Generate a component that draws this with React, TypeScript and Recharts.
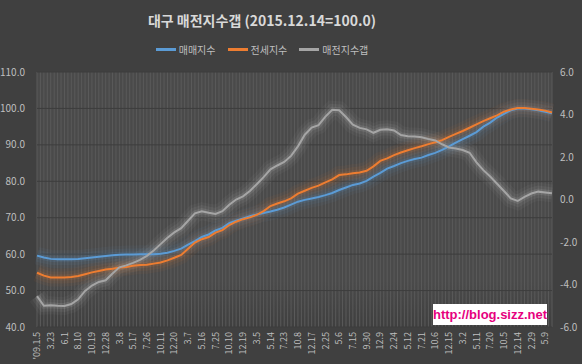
import React from "react";
import { LineChart, Line, XAxis, YAxis, CartesianGrid, Legend } from "recharts";

const tickLabels = ["'09.1.5","3.23","6.1","8.10","10.19","12.28","3.8","5.17","7.26","10.11","12.20","3.7","5.16","7.25","10.10","12.19","3.5","5.14","7.23","10.8","12.17","2.25","5.6","7.15","9.30","12.9","2.24","5.12","7.21","10.6","12.15","3.2","5.11","7.20","10.5","12.14","2.29","5.9"];

const saleIndex = [59.6,59.1,58.7,58.6,58.6,58.6,58.7,58.9,59.1,59.3,
59.5,59.7,59.8,59.9,59.9,60.0,60.0,60.0,60.1,60.4,
60.9,61.5,62.6,63.6,64.7,65.4,66.5,67.2,68.5,69.2,
69.8,70.4,70.9,71.3,71.7,72.2,72.8,73.6,74.4,74.9,
75.3,75.7,76.2,76.8,77.6,78.3,79.0,79.4,80.1,81.3,
82.3,83.5,84.2,85.0,85.6,86.1,86.5,87.2,87.8,88.6,
89.6,90.6,91.6,92.5,93.5,95.0,96.1,97.5,98.5,99.5,
100.0,100.0,99.8,99.5,99.1,98.7];

const jeonseIndex = [54.9,54.1,53.6,53.6,53.6,53.7,54.0,54.5,55.0,55.4,
55.8,56.0,56.3,56.5,56.8,57.0,57.1,57.4,57.7,58.3,
59.0,59.8,61.5,63.2,64.1,64.7,65.9,66.6,68.0,68.9,
69.6,70.1,70.8,71.8,73.2,73.9,74.5,75.3,76.6,77.4,
78.2,78.8,79.7,80.5,81.7,81.9,82.2,82.4,82.9,84.1,
85.6,86.3,87.2,87.9,88.5,89.1,89.6,90.2,90.7,91.3,
92.2,93.0,93.8,94.7,95.6,96.5,97.3,98.1,99.1,99.7,
100.1,100.1,99.9,99.7,99.4,98.9];

const gapIndex = [-4.55,-5.0,-4.98,-5.0,-5.01,-4.92,-4.7,-4.3,-4.05,-3.88,
-3.8,-3.48,-3.19,-3.1,-2.98,-2.84,-2.65,-2.4,-2.1,-1.8,
-1.55,-1.35,-1.0,-0.65,-0.55,-0.62,-0.68,-0.55,-0.25,0.0,
0.15,0.4,0.72,1.05,1.42,1.6,1.77,2.05,2.5,3.05,
3.38,3.5,3.9,4.22,4.2,3.88,3.52,3.37,3.3,3.14,
3.28,3.3,3.25,3.03,2.98,2.97,2.93,2.85,2.78,2.6,
2.45,2.4,2.33,2.2,1.75,1.38,1.08,0.74,0.4,0.05,
-0.07,0.12,0.28,0.37,0.33,0.29];

const leftTicks = [40, 50, 60, 70, 80, 90, 100, 110];
const rightTicks = [-6, -4, -2, 0, 2, 4, 6];

const seriesNames = ["매매지수", "전세지수", "매전지수갭"];
const seriesColors = ["#5b9bd5", "#ed7d31", "#a5a5a5"];

const data = saleIndex.map((v, i) => ({
  label: i % 2 === 0 && tickLabels[i / 2] !== undefined ? tickLabels[i / 2] : "",
  sale: v,
  jeonse: jeonseIndex[i],
  gap: gapIndex[i],
}));

const FONT = "'Noto Sans CJK KR', 'Noto Sans', sans-serif";
const TICK_COLOR = "#bfbfbf";

const XTick = (props: any) => {
  const { x, y, payload } = props;
  if (!payload || !payload.value) return null;
  return (
    <g transform={`translate(${x},${y})`}>
      <text
        transform="rotate(-90)"
        x={-5}
        y={0}
        dy="0.35em"
        textAnchor="end"
        fill={TICK_COLOR}
        fontSize={9}
        fontFamily={FONT}
      >
        {payload.value}
      </text>
    </g>
  );
};

const gridVerticals = ({ offset }: any) => {
  const out: number[] = [];
  const n = 150;
  for (let k = 0; k <= n; k++) out.push(offset.left + (offset.width * k) / n);
  return out;
};

const LegendContent = () => (
  <div style={{ display: "flex", justifyContent: "center", alignItems: "center", height: 20 }}>
    {seriesNames.map((name, i) => (
      <div key={name} style={{ display: "flex", alignItems: "center", marginRight: i < seriesNames.length - 1 ? 12 : 0 }}>
        <div style={{ width: 20, height: 3, background: seriesColors[i], marginRight: 3 }} />
        <span style={{ color: TICK_COLOR, fontSize: 10, fontFamily: FONT }}>{name}</span>
      </div>
    ))}
  </div>
);

const glowCommon = { dot: false, activeDot: false, isAnimationActive: false, legendType: "none" as const };

export default function App() {
  return (
    <div style={{ position: "absolute", left: 0, top: 0, width: 582, height: 364, background: "#404040", fontFamily: FONT }}>
      <svg width={0} height={0} style={{ position: "absolute" }}>
        <defs>
          <linearGradient id="plotBg" x1="0" y1="0" x2="0" y2="1">
            <stop offset="0%" stopColor="#4a4a4a" />
            <stop offset="82%" stopColor="#4a4a4a" />
            <stop offset="100%" stopColor="#3f3f3f" />
          </linearGradient>
        </defs>
      </svg>
      <div
        style={{
          position: "absolute",
          top: 10,
          left: 0,
          width: 524,
          textAlign: "center",
          color: "#d9d9d9",
          fontSize: 14,
          fontWeight: "bold",
          fontFamily: FONT,
        }}
      >
        대구 매전지수갭 (2015.12.14=100.0)
      </div>
      <LineChart
        width={582}
        height={364}
        data={data}
        margin={{ top: 52, right: 0, bottom: 0, left: 0 }}
      >
        <CartesianGrid
          yAxisId="left"
          horizontal={false}
          vertical={true}
          fill="url(#plotBg)"
          fillOpacity={1}
          stroke="#5a5a5a"
          strokeWidth={1}
          verticalCoordinatesGenerator={gridVerticals}
        />
        <CartesianGrid
          yAxisId="left"
          horizontal={true}
          vertical={false}
          stroke="#3d3d3d"
          strokeWidth={1}
        />
        <XAxis
          dataKey="label"
          interval={0}
          tick={<XTick />}
          tickLine={false}
          axisLine={false}
          tickSize={0}
          tickMargin={0}
          height={37}
        />
        <YAxis
          yAxisId="left"
          orientation="left"
          domain={[40, 110]}
          ticks={leftTicks}
          tickFormatter={(v: number) => v.toFixed(1)}
          tick={{ fill: TICK_COLOR, fontSize: 10, fontFamily: FONT }}
          tickLine={false}
          axisLine={false}
          tickSize={0}
          tickMargin={12}
          width={37}
          allowDataOverflow
        />
        <YAxis
          yAxisId="right"
          orientation="right"
          domain={[-6, 6]}
          ticks={rightTicks}
          tickFormatter={(v: number) => v.toFixed(1)}
          tick={{ fill: TICK_COLOR, fontSize: 10, fontFamily: FONT }}
          tickLine={false}
          axisLine={false}
          tickSize={0}
          tickMargin={8}
          width={30}
          allowDataOverflow
        />
        <Legend
          verticalAlign="top"
          height={20}
          wrapperStyle={{ top: 39, left: 0, width: 524 }}
          content={<LegendContent />}
        />
        <Line yAxisId="right" dataKey="gap" stroke="#e8e8e8" strokeWidth={18} strokeOpacity={0.04} {...glowCommon} />
        <Line yAxisId="right" dataKey="gap" stroke="#e8e8e8" strokeWidth={12} strokeOpacity={0.06} {...glowCommon} />
        <Line yAxisId="right" dataKey="gap" stroke="#e8e8e8" strokeWidth={6} strokeOpacity={0.1} {...glowCommon} />
        <Line yAxisId="left" dataKey="jeonse" stroke="#ed7d31" strokeWidth={18} strokeOpacity={0.05} {...glowCommon} />
        <Line yAxisId="left" dataKey="jeonse" stroke="#ed7d31" strokeWidth={12} strokeOpacity={0.07} {...glowCommon} />
        <Line yAxisId="left" dataKey="jeonse" stroke="#ed7d31" strokeWidth={6} strokeOpacity={0.12} {...glowCommon} />
        <Line yAxisId="left" dataKey="sale" stroke="#5b9bd5" strokeWidth={18} strokeOpacity={0.05} {...glowCommon} />
        <Line yAxisId="left" dataKey="sale" stroke="#5b9bd5" strokeWidth={12} strokeOpacity={0.07} {...glowCommon} />
        <Line yAxisId="left" dataKey="sale" stroke="#5b9bd5" strokeWidth={6} strokeOpacity={0.12} {...glowCommon} />
        <Line yAxisId="left" name="매매지수" dataKey="sale" stroke="#5b9bd5" strokeWidth={2} dot={false} activeDot={false} isAnimationActive={false} />
        <Line yAxisId="left" name="전세지수" dataKey="jeonse" stroke="#ed7d31" strokeWidth={2} dot={false} activeDot={false} isAnimationActive={false} />
        <Line yAxisId="right" name="매전지수갭" dataKey="gap" stroke="#a5a5a5" strokeWidth={2} dot={false} activeDot={false} isAnimationActive={false} />
      </LineChart>
      <div
        style={{
          position: "absolute",
          left: 433,
          top: 304,
          width: 114,
          height: 21,
          background: "#ffffff",
          color: "#e6007e",
          fontFamily: "'Liberation Sans', Arial, sans-serif",
          fontSize: 13,
          fontWeight: "bold",
          lineHeight: "21px",
          textAlign: "center",
        }}
      >
        http://blog.sizz.net
      </div>
    </div>
  );
}
